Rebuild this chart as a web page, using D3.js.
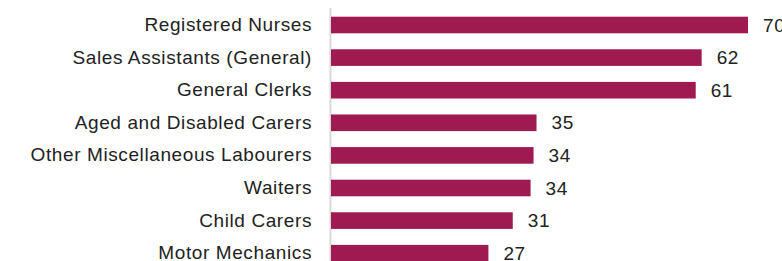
<!DOCTYPE html>
<html>
<head>
<meta charset="utf-8">
<script src="https://cdn.jsdelivr.net/npm/d3@7"></script>
<style>
  html, body { margin:0; padding:0; background:#fff; }
  svg { display:block; }
</style>
</head>
<body>
<svg id="chart" width="782" height="261"></svg>
<script>
/* ---------- Data ---------- */
const occupations = [
  'Registered Nurses',
  'Sales Assistants (General)',
  'General Clerks',
  'Aged and Disabled Carers',
  'Other Miscellaneous Labourers',
  'Waiters',
  'Child Carers',
  'Motor Mechanics'
];
const counts = [70.2, 62.4, 61.4, 34.6, 34.1, 33.6, 30.6, 26.5];
const xDomain = [0, 75];

/* ---------- Setup ---------- */
const svg = d3.select('#chart');
const font = "'Liberation Sans', Arial, sans-serif";
const barColor = '#9e1a50';

const x = d3.scaleLinear().domain(xDomain).range([331, 331 + 75 * 5.94]);
const y = d3.scaleBand().domain(occupations).range([8.7, 269.5])
  .paddingInner(0.49).paddingOuter(0.245);

// vertical category axis
const yAxis = d3.axisLeft(y).tickSize(0).tickPadding(18);
const yAxisGroup = svg.append('g')
  .attr('transform', `translate(${x(0) - 1},0)`)
  .call(yAxis);
yAxisGroup.select('.domain').attr('d', `M0.5,8V261`).style('stroke', '#d9d9d9').style('stroke-width', 2);
yAxisGroup.selectAll('text')
  .style('font-family', font).style('font-size', '19px').style('fill', '#222')
  .style('letter-spacing', '0.6px');

// bars
svg.selectAll('.bar').data(counts).enter().append('rect')
  .attr('class', 'bar')
  .attr('x', x(0))
  .attr('y', (d, i) => y(occupations[i]))
  .attr('width', d => x(d) - x(0))
  .attr('height', y.bandwidth())
  .style('fill', barColor);

// value labels
svg.selectAll('.val').data(counts).enter().append('text')
  .attr('class', 'val')
  .attr('x', d => x(d) + 15)
  .attr('y', (d, i) => y(occupations[i]) + y.bandwidth() / 2)
  .attr('dy', '0.35em')
  .style('font-family', font).style('font-size', '19px').style('fill', '#222')
  .style('letter-spacing', '0.6px')
  .text(d => Math.round(d));
</script>
</body>
</html>
